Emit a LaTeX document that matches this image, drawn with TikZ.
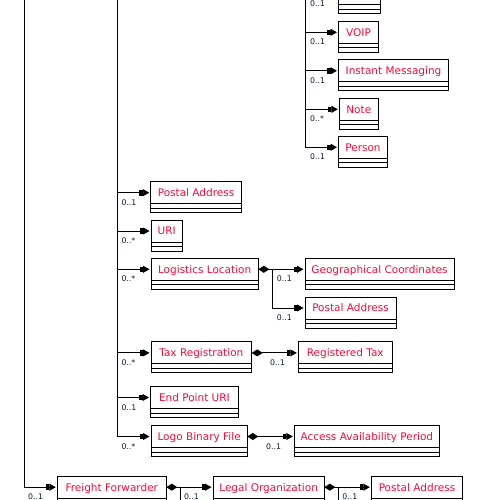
\documentclass[tikz,border=0pt]{standalone}
\usepackage{fontspec}
\setmainfont{DejaVu Sans}
\usetikzlibrary{arrows.meta,calc}

\definecolor{clsred}{RGB}{250,10,55}
\definecolor{multcol}{RGB}{10,25,60}

\tikzset{
  tipend/.tip={Rectangle[length=3.5pt,width=5.5pt,sep=0pt]Triangle[length=6.5pt,width=7pt]},
  tipdia/.tip={Diamond[length=11pt,width=7pt]},
  clshead/.style={draw, line width=0.9pt, outer sep=0pt, inner xsep=0pt, inner ysep=0pt,
    minimum height=22pt, text=clsred, font=\fontsize{10.5}{12}\selectfont,
    text height=7.65pt, text depth=0pt},
  clsline/.style={line width=0.9pt},
  conn/.style={line width=0.9pt, arrows={-tipend}, shorten >=1.5pt},
  dconn/.style={line width=0.9pt, arrows={tipdia-tipend}, shorten >=1.5pt},
  trunk/.style={line width=0.9pt},
  mult/.style={anchor=west, inner sep=0pt, text=multcol, font=\fontsize{7.8}{9}\selectfont,
    text height=5.7pt, text depth=0pt},
}

% class box: name, left x, top y, width, title
\newcommand\clsbox[5]{%
  \node[clshead, minimum width=#4pt] (#1) at (#2+#4/2, #3+11) {#5};
  \draw[clsline] (#1.south west) rectangle ([yshift=-4.5pt]#1.south east);
  \draw[clsline] ([yshift=-4.5pt]#1.south west) rectangle ([yshift=-9pt]#1.south east);
}

\begin{document}
\begin{tikzpicture}[x=1pt, y=-1pt]
\useasboundingbox (0,0) rectangle (500,500);
\clip (0,0) rectangle (500,500);
\fill[white] (0,0) rectangle (500,500);

% trunks coming from parents above
\coordinate (v1) at (24.3,-2);
\coordinate (v2) at (117.3,-2);
\coordinate (v3) at (305.3,-2);

% third level
\clsbox{contact}{338.5}{-17.1}{42}{}
\clsbox{voip}{338.5}{21.3}{40}{VOIP}
\clsbox{im}{338.5}{59.8}{110}{Instant Messaging}
\clsbox{note}{339.3}{98.3}{39}{Note}
\clsbox{person}{338.5}{136.3}{49}{Person}

% second level
\clsbox{pa}{150.8}{181.7}{90.5}{Postal Address}
\clsbox{uri}{151}{220}{31.3}{URI}
\clsbox{ll}{151}{258.3}{107.3}{Logistics Location}
\clsbox{geo}{305}{258.3}{149}{Geographical Coordinates}
\clsbox{pa2}{305}{297}{91}{Postal Address}
\clsbox{tax}{151}{341.9}{100.7}{Tax Registration}
\clsbox{rtax}{298.3}{341.9}{94}{Registered Tax}
\clsbox{epuri}{150.5}{386.5}{87.8}{End Point URI}
\clsbox{logo}{151}{425.5}{96.3}{Logo Binary File}
\clsbox{aap}{294.3}{425.5}{145}{Access Availability Period}

% first level
\clsbox{ff}{57.3}{476.2}{109}{Freight Forwarder}
\clsbox{lo}{213}{476.2}{111.3}{Legal Organization}
\clsbox{pa3}{371.3}{476.2}{91.4}{Postal Address}

% connectors from trunk v3
\foreach \n in {contact,voip,im,note,person}
  \draw[conn] (v3) |- (\n.west);
% connectors from trunk v2
\foreach \n in {pa,uri,ll,tax,epuri,logo}
  \draw[conn] (v2) |- (\n.west);
% connector from trunk v1
\draw[conn] (v1) |- (ff.west);

% compositions
\coordinate (llj) at ($(ll.east)+(14,0)$);
\draw[dconn] (ll.east) -- (geo.west);
\draw[conn] (llj) |- (pa2.west);
\draw[dconn] (tax.east) -- (rtax.west);
\draw[dconn] (logo.east) -- (aap.west);

\coordinate (ffj) at ($(ff.east)+(14,0)$);
\coordinate (ffdown) at ($(ffj)+(0,30)$);
\draw[dconn] (ff.east) -- (lo.west);
\draw[trunk] (ffj) -- (ffdown);

\coordinate (loj) at ($(lo.east)+(14.4,0)$);
\coordinate (lodown) at ($(loj)+(0,30)$);
\draw[dconn] (lo.east) -- (pa3.west);
\draw[trunk] (loj) -- (lodown);

% multiplicities
\node[mult] (m-contact) at ($(v3 |- contact.west)+(4.6,9.7)$) {0..1};
\node[mult] (m-voip)    at ($(v3 |- voip.west)+(4.6,9.7)$) {0..1};
\node[mult] (m-im)      at ($(v3 |- im.west)+(4.6,9.7)$) {0..1};
\node[mult] (m-note)    at ($(v3 |- note.west)+(4.6,9.7)$) {0..*};
\node[mult] (m-person)  at ($(v3 |- person.west)+(4.6,9.7)$) {0..1};

\node[mult] (m-pa)    at ($(v2 |- pa.west)+(4,9.7)$) {0..1};
\node[mult] (m-uri)   at ($(v2 |- uri.west)+(4,9.7)$) {0..*};
\node[mult] (m-ll)    at ($(v2 |- ll.west)+(4,9.7)$) {0..*};
\node[mult] (m-tax)   at ($(v2 |- tax.west)+(4,9.7)$) {0..*};
\node[mult] (m-epuri) at ($(v2 |- epuri.west)+(4,9.7)$) {0..1};
\node[mult] (m-logo)  at ($(v2 |- logo.west)+(4,9.7)$) {0..*};

\node[mult] (m-geo)  at ($(llj)+(4.4,9.7)$) {0..1};
\node[mult] (m-pa2)  at ($(llj |- pa2.west)+(4.4,9.7)$) {0..1};
\node[mult] (m-rtax) at ($(tax.east)+(18.3,9.7)$) {0..1};
\node[mult] (m-aap)  at ($(logo.east)+(18.7,9.7)$) {0..1};

\node[mult] (m-ff)  at ($(v1 |- ff.west)+(3.7,9.7)$) {0..1};
\node[mult] (m-lo)  at ($(ffj)+(3.5,9.7)$) {0..1};
\node[mult] (m-pa3) at ($(loj)+(3.5,9.7)$) {0..1};
\end{tikzpicture}
\end{document}
